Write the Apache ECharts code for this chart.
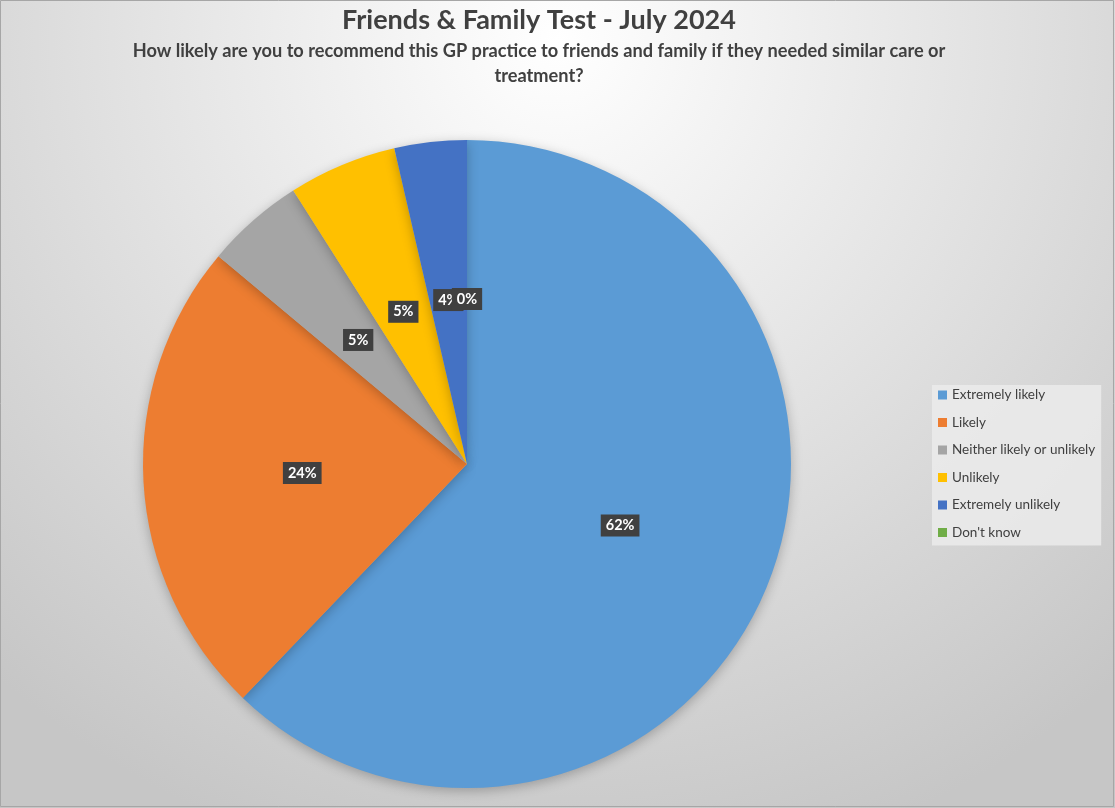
<!DOCTYPE html>
<html><head><meta charset="utf-8">
<script src="https://cdn.jsdelivr.net/npm/echarts@6/dist/echarts.min.js"></script>
<style>html,body{margin:0;padding:0;}#c{width:1115px;height:808px;}</style>
</head><body><div id="c"></div>
<script>
const categories = ['Extremely likely','Likely','Neither likely or unlikely','Unlikely','Extremely unlikely',"Don't know"];
const values = [62.1, 23.9, 4.9, 5.4, 3.6, 0];
const colors = ['#5B9BD5','#ED7D31','#A5A5A5','#FFC000','#4472C4','#70AD47'];
const titleText = 'Friends & Family Test - July 2024';
const subtitleLines = ['How likely are you to recommend this GP practice to friends and family if they needed similar care or','treatment?'];

const total = values.reduce((a,b)=>a+b,0);
const FONT = 'Lato, "Open Sans", sans-serif';
const chart = echarts.init(document.getElementById('c'));
chart.setOption({
  backgroundColor: {type:'radial', x:0.5, y:0.05, r:1.05, colorStops:[{offset:0,color:'#ffffff'},{offset:1,color:'#c6c6c6'}]},
  textStyle:{fontFamily:FONT},
  graphic:[
    {type:'rect', shape:{x:0.5,y:0.5,width:1113,height:806}, style:{fill:'none',stroke:'#a6a6a6',lineWidth:1}, silent:true},
    {type:'text', x:539, y:7, style:{text:titleText, font:'bold 27px '+FONT, fill:'#404040', textAlign:'center'}},
    {type:'text', x:539, y:39, style:{text:subtitleLines.join('\n'), font:'bold 18.2px '+FONT, fill:'#404040', textAlign:'center', lineHeight:25}}
  ],
  legend:{
    orient:'vertical', left:932, top:385, width:170,
    backgroundColor:'rgba(235,235,235,0.85)', padding:[3,6,6,6],
    itemWidth:9, itemHeight:9, itemGap:13.5, icon:'rect',
    textStyle:{fontSize:13.5, color:'#404040', fontFamily:FONT},
    data:categories
  },
  series:[{
    type:'pie', center:[467,464], radius:324, startAngle:90, clockwise:true,
    avoidLabelOverlap:false, minShowLabelAngle:0, stillShowZeroSum:true,
    labelLayout:{hideOverlap:false},
    color:colors,
    itemStyle:{shadowBlur:12, shadowColor:'rgba(0,0,0,0.25)', shadowOffsetY:3},
    label:{show:true, position:'inside', formatter:p=>Math.round(p.value/total*100)+'%',
      backgroundColor:'#404040', color:'#fff', fontWeight:'bold', fontSize:14.5, padding:[4,5,3,5], fontFamily:FONT},
    labelLine:{show:false},
    emphasis:{disabled:true},
    data:categories.map((c,i)=>({name:c, value:values[i]}))
  }]
});
</script></body></html>
